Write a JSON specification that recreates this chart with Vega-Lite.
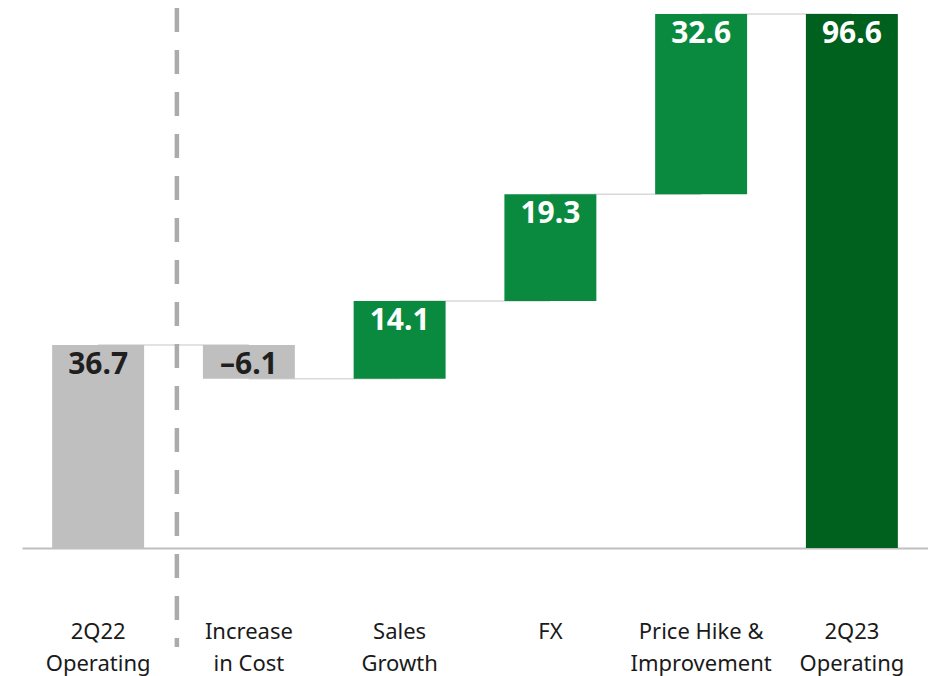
{
  "$schema": "https://vega.github.io/schema/vega-lite/v6.json",
  "width": 906,
  "height": 548,
  "padding": {"left": 22, "top": 0, "right": 0, "bottom": 0},
  "background": "white",
  "config": {"view": {"stroke": null}, "font": "Noto Sans"},
  "encoding": {
    "x": {
      "field": "cat",
      "type": "nominal",
      "scale": {
        "domain": ["2Q22|Operating|Profit", "Increase|in Cost", "Sales|Growth", "FX", "Price  Hike  &|Improvement|in Product  Mix", "2Q23|Operating|Profit"],
        "paddingInner": 0.39,
        "paddingOuter": 0.2
      },
      "axis": {
        "title": "",
        "domain": true,
        "domainColor": "#BFBFBF",
        "domainWidth": 2,
        "ticks": false,
        "grid": false,
        "labelAngle": 0,
        "labelPadding": 83,
        "labelBaseline": "middle",
        "labelExpr": "split(datum.label, '|')",
        "labelFontSize": 22,
        "labelLineHeight": 32,
        "labelColor": "#1a1a1a",
        "labelLimit": 0
      }
    }
  },
  "layer": [
    {
      "data": {"values": [
        {"link": 1, "cat": "2Q22|Operating|Profit", "level": 36.7},
        {"link": 1, "cat": "Increase|in Cost", "level": 36.7},
        {"link": 2, "cat": "Increase|in Cost", "level": 30.6},
        {"link": 2, "cat": "Sales|Growth", "level": 30.6},
        {"link": 3, "cat": "Sales|Growth", "level": 44.7},
        {"link": 3, "cat": "FX", "level": 44.7},
        {"link": 4, "cat": "FX", "level": 64.0},
        {"link": 4, "cat": "Price  Hike  &|Improvement|in Product  Mix", "level": 64.0},
        {"link": 5, "cat": "Price  Hike  &|Improvement|in Product  Mix", "level": 96.6},
        {"link": 5, "cat": "2Q23|Operating|Profit", "level": 96.6}
      ]},
      "mark": {"type": "line", "color": "#D9D9D9", "strokeWidth": 1.5},
      "encoding": {
        "y": {"field": "level", "type": "quantitative", "axis": null},
        "detail": {"field": "link", "type": "nominal"}
      }
    },
    {
      "data": {"values": [
        {"cat": "2Q22|Operating|Profit", "start": 0, "end": 36.7, "kind": "base"},
        {"cat": "Increase|in Cost", "start": 36.7, "end": 30.6, "kind": "neg"},
        {"cat": "Sales|Growth", "start": 30.6, "end": 44.7, "kind": "pos"},
        {"cat": "FX", "start": 44.7, "end": 64.0, "kind": "pos"},
        {"cat": "Price  Hike  &|Improvement|in Product  Mix", "start": 64.0, "end": 96.6, "kind": "pos"},
        {"cat": "2Q23|Operating|Profit", "start": 0, "end": 96.6, "kind": "total"}
      ]},
      "mark": {"type": "bar"},
      "encoding": {
        "y": {
          "field": "start",
          "type": "quantitative",
          "scale": {"domain": [0, 99.13], "nice": false},
          "axis": null
        },
        "y2": {"field": "end"},
        "color": {
          "field": "kind",
          "type": "nominal",
          "scale": {"domain": ["base", "neg", "pos", "total"], "range": ["#BFBFBF", "#BFBFBF", "#0A8A3E", "#00601E"]},
          "legend": null
        }
      }
    },
    {
      "data": {"values": [
        {"cat": "2Q22|Operating|Profit", "top": 36.7, "label": "36.7", "kind": "base"},
        {"cat": "Increase|in Cost", "top": 36.7, "label": "–6.1", "kind": "neg"},
        {"cat": "Sales|Growth", "top": 44.7, "label": "14.1", "kind": "pos"},
        {"cat": "FX", "top": 64.0, "label": "19.3", "kind": "pos"},
        {"cat": "Price  Hike  &|Improvement|in Product  Mix", "top": 96.6, "label": "32.6", "kind": "pos"},
        {"cat": "2Q23|Operating|Profit", "top": 96.6, "label": "96.6", "kind": "total"}
      ]},
      "mark": {"type": "text", "baseline": "middle", "align": "center", "dy": 20, "fontSize": 30, "fontWeight": "bold"},
      "encoding": {
        "y": {"field": "top", "type": "quantitative", "axis": null},
        "text": {"field": "label", "type": "nominal"},
        "fill": {
          "field": "kind",
          "type": "nominal",
          "scale": {"domain": ["base", "neg", "pos", "total"], "range": ["#1f1f1f", "#1f1f1f", "#ffffff", "#ffffff"]},
          "legend": null
        }
      }
    },
    {
      "data": {"values": [{"cat": "Increase|in Cost", "top": 97.7, "bottom": -17.9}]},
      "mark": {"type": "rule", "color": "#ABABAB", "strokeWidth": 4.5, "strokeDash": [24, 18], "xOffset": -72, "clip": false},
      "encoding": {
        "y": {"field": "top", "type": "quantitative", "axis": null},
        "y2": {"field": "bottom"}
      }
    }
  ]
}
